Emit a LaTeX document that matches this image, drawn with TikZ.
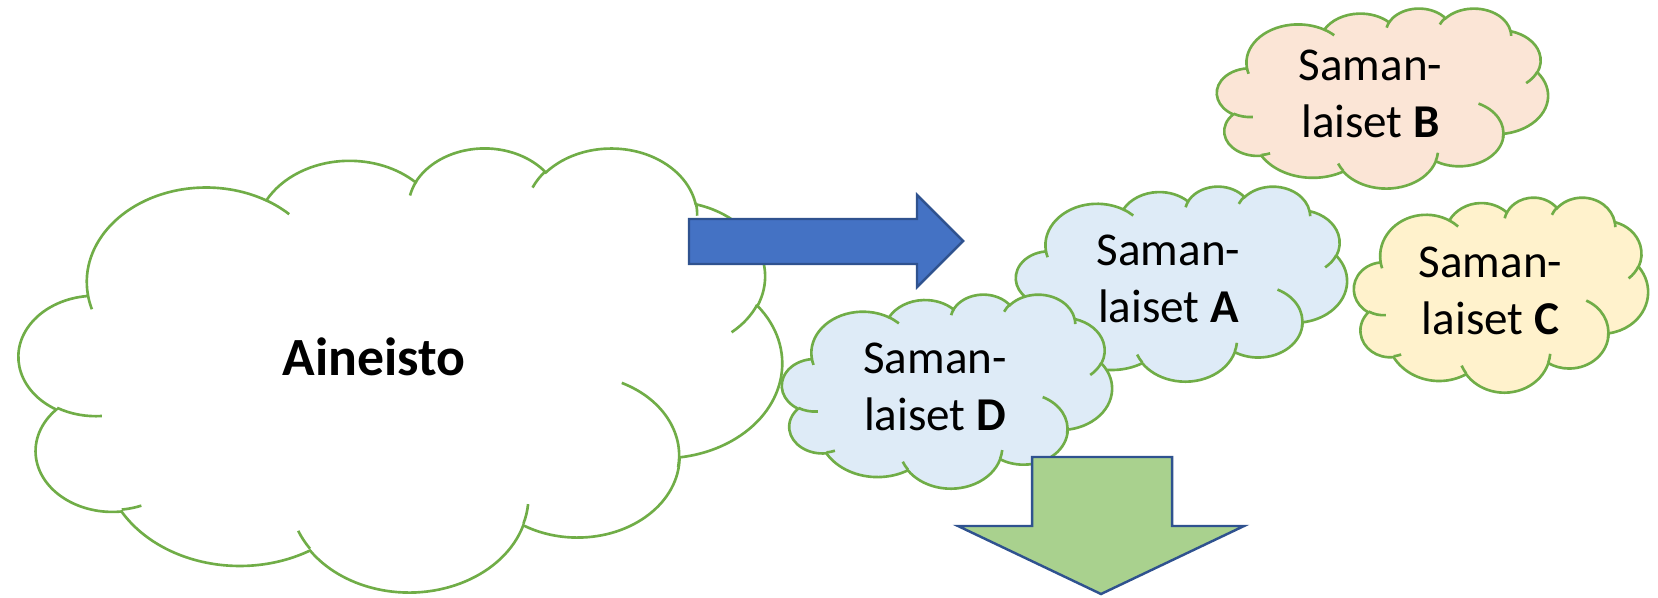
\documentclass[tikz,border=0pt]{standalone}
\usepackage{fontspec}
\setmainfont{Carlito}
\usepackage{xcolor}
\usepackage{tikz}

\definecolor{cloudgreen}{HTML}{70AD47}
\definecolor{arrowedge}{HTML}{2F528F}
\definecolor{arrowblue}{HTML}{4472C4}
\definecolor{arrowgreen}{HTML}{A9D18E}
\definecolor{cloudblue}{HTML}{DEEBF7}
\definecolor{cloudpeach}{HTML}{FBE5D6}
\definecolor{cloudyellow}{HTML}{FFF2CC}

% cloud outline: left, top, width, height (in 1/100 cm), fill
\newcommand{\mscloud}[5]{%
  \draw[cloudline,fill=#5] ({#1/100+3.900*(#3/4320)},{-#2/100-14.370*(#4/4320)})
    \foreach \rx/\ry/\sa/\sw [evaluate=\rx as \ax using \rx*(#3/4320),
        evaluate=\ry as \ay using \ry*(#4/4320),
        evaluate=\sa as \ta using {-atan2(\rx*sin(\sa),\ry*cos(\sa))},
        evaluate=\sa as \da using {-mod(atan2(\rx*sin(\sa+\sw),\ry*cos(\sa+\sw))+\ta+720,360)}]
    in {6.753/9.190/-190.4875/123.7805, 5.333/7.267/-144.1024/89.9452,
        4.365/5.945/-145.8079/99.7230, 4.857/6.595/-130.9861/117.2417,
        5.333/7.273/-78.7089/109.0269, 6.775/9.220/-46.2673/130.2690,
        5.785/7.867/0.6250/114.0333, 6.752/9.215/22.4516/115.1726,
        7.720/10.543/66.2426/75.7110, 4.360/5.918/-274.9421/146.7356,
        4.345/5.945/-246.8285/152.5189}
    { arc[x radius=\ax, y radius=\ay, start angle=\ta, delta angle=\da] } -- cycle;
  \draw[cloudline]
    \foreach \qx/\qy/\rx/\ry/\sa/\sw [evaluate=\rx as \ax using \rx*(#3/4320),
        evaluate=\ry as \ay using \ry*(#4/4320),
        evaluate=\sa as \ta using {-atan2(\rx*sin(\sa),\ry*cos(\sa))},
        evaluate=\sa as \da using {-mod(atan2(\rx*sin(\sa+\sw),\ry*cos(\sa+\sw))+\ta+720,360)}]
    in {4.693/26.177/4.345/5.945/86.7420/26.4295, 6.928/34.899/4.360/5.918/73.6105/11.4475,
        16.478/39.090/6.752/9.215/137.6242/14.0811, 28.827/34.751/6.752/9.215/6.4533/15.9984,
        34.129/22.954/5.785/7.867/-70.2924/81.5700, 41.798/15.354/5.333/7.273/30.3180/27.7515,
        38.324/5.426/4.857/6.595/-13.7443/14.8622, 29.078/3.952/4.857/6.595/-149.1815/18.1954,
        22.141/4.720/4.365/5.945/-163.4943/17.6864, 14.000/5.192/6.753/9.190/-66.7070/12.3194,
        4.127/15.789/6.753/9.190/157.6544/11.8582}
    { ({#1/100+\qx*(#3/4320)},{-#2/100-\qy*(#4/4320)})
      arc[x radius=\ax, y radius=\ay, start angle=\ta, delta angle=\da] };
}

\begin{document}
\begin{tikzpicture}
  [cloudline/.style={draw=cloudgreen, line width=0.75pt},
   blockarrow/.style={draw=arrowedge, line width=0.7pt, line join=miter},
   cloudtext/.style={font=\fontsize{13.4}{16.2}\selectfont, align=center, inner sep=0pt}]
  \useasboundingbox (0,0) rectangle (16.58,-5.98);

  % data
  \mscloud{19}{147}{763}{444}{white}
  \node[font=\fontsize{15.3}{18}\selectfont\bfseries, anchor=base, inner sep=0pt] (aineisto) at (3.74,-3.75) {Aineisto};

  \draw[blockarrow, fill=arrowblue] (6.89,-2.19) -- (9.17,-2.19) -- (9.17,-1.95) -- (9.63,-2.41)
    -- (9.17,-2.87) -- (9.17,-2.64) -- (6.89,-2.64) -- cycle;

  % groups
  \mscloud{1217}{8}{331}{180}{cloudpeach}
  \node[cloudtext] (groupB) at (13.705,-0.94) {Saman-\\laiset \textbf{B}};
  \mscloud{1354}{197}{294}{195}{cloudyellow}
  \node[cloudtext] (groupC) at (14.905,-2.905) {Saman-\\laiset \textbf{C}};
  \mscloud{1016}{186}{331}{195}{cloudblue}
  \node[cloudtext] (groupA) at (11.685,-2.79) {Saman-\\laiset \textbf{A}};
  \mscloud{782}{294}{330}{194}{cloudblue}
  \node[cloudtext] (groupD) at (9.35,-3.865) {Saman-\\laiset \textbf{D}};

  \draw[blockarrow, fill=arrowgreen] (10.32,-4.57) -- (11.72,-4.57) -- (11.72,-5.26) -- (12.44,-5.26)
    -- (11.01,-5.94) -- (9.58,-5.26) -- (10.32,-5.26) -- cycle;
\end{tikzpicture}
\end{document}
